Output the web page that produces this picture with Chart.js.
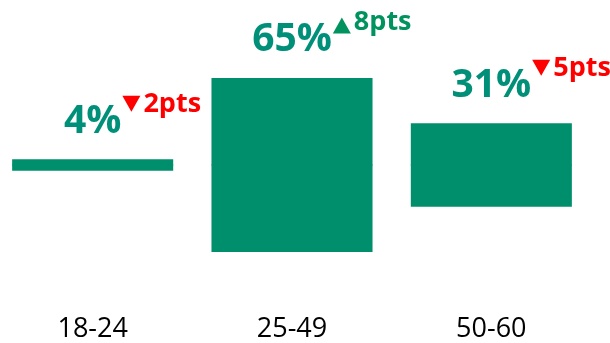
<!DOCTYPE html>
<html>
<head>
<meta charset="utf-8">
<script src="https://cdn.jsdelivr.net/npm/chart.js@4"></script>
<style>
    html, body { margin: 0; padding: 0; background: #fff; overflow: hidden; }
    #wrap { position: absolute; left: -7px; top: 0; width: 617px; height: 343px; }
</style>
</head>
<body>
<div id="wrap"><canvas id="ageChart"></canvas></div>
<script>
// chart data
const categories = ['18-24', '25-49', '50-60'];
const shares = [4, 65, 31];          // %
const changes = [-2, 8, -5];         // pts vs previous

const BAR_GREEN = '#008F6D';
const TEXT_TEAL = '#00907A';
const UP_GREEN = '#00935F';
const DOWN_RED = '#FF0000';

// value labels + change markers above each bar
const labelPlugin = {
    id: 'shareLabels',
    afterDatasetsDraw(chart) {
        const ctx = chart.ctx;
        const meta = chart.getDatasetMeta(0);
        ctx.save();
        meta.data.forEach((bar, i) => {
            const base = bar.y - 27;
            const txt = shares[i] + '%';
            ctx.font = 'bold 39px "Open Sans"';
            ctx.fillStyle = TEXT_TEAL;
            ctx.textAlign = 'center';
            ctx.textBaseline = 'alphabetic';
            ctx.fillText(txt, bar.x, base);
            const w = ctx.measureText(txt).width;

            // triangle
            const up = changes[i] > 0;
            const tx = bar.x + w / 2 + 1;
            ctx.fillStyle = up ? UP_GREEN : DOWN_RED;
            ctx.beginPath();
            if (up) {
                ctx.moveTo(tx, base - 18);
                ctx.lineTo(tx + 18, base - 18);
                ctx.lineTo(tx + 9, base - 34);
            } else {
                ctx.moveTo(tx, base - 37);
                ctx.lineTo(tx + 18, base - 37);
                ctx.lineTo(tx + 9, base - 21);
            }
            ctx.closePath();
            ctx.fill();

            // pts text
            ctx.font = 'bold 27px "Open Sans"';
            ctx.textAlign = 'left';
            ctx.fillText(Math.abs(changes[i]) + 'pts', tx + 21, base - 21);
        });
        ctx.restore();
    }
};

const ctx = document.getElementById('ageChart').getContext('2d');
new Chart(ctx, {
    type: 'bar',
    data: {
        labels: categories,
        datasets: [
            {
                data: shares.map(v => v / 2),
                backgroundColor: BAR_GREEN,
                borderWidth: 0,
                inflateAmount: 0.5
            },
            {
                data: shares.map(v => -v / 2),
                backgroundColor: BAR_GREEN,
                borderWidth: 0,
                inflateAmount: 0.5
            }
        ]
    },
    options: {
        responsive: true,
        maintainAspectRatio: false,
        animation: false,
        layout: { padding: { top: 30, right: 19, left: 0, bottom: 0 } },
        datasets: {
            bar: { categoryPercentage: 1, barPercentage: 0.803 }
        },
        plugins: {
            legend: { display: false },
            tooltip: { enabled: false }
        },
        scales: {
            x: {
                stacked: true,
                grid: { display: false, drawTicks: false },
                border: { display: false },
                ticks: {
                    color: '#000',
                    padding: 0,
                    font: { family: 'Open Sans', size: 27, weight: '500', lineHeight: 1 }
                }
            },
            y: {
                stacked: true,
                display: false,
                min: -56.7,
                max: 50.7
            }
        }
    },
    plugins: [labelPlugin]
});
</script>
</body>
</html>
